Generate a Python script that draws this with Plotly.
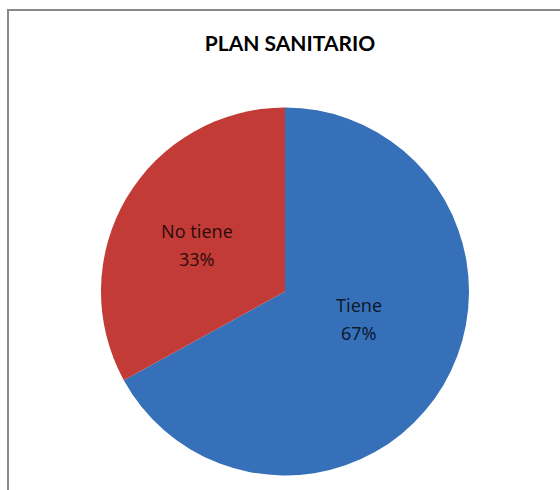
import plotly.graph_objects as go

# Survey result: households with / without a sanitary plan
categories = ["Tiene", "No tiene"]
values = [67, 33]
slice_colors = ["#3670B8", "#C23B36"]

W, H = 560, 490

# Pie geometry in pixels (center and radius), converted to paper domain
cx, cy, r = 285, 291.5, 184
dom_x = [(cx - r) / W, (cx + r) / W]
dom_y = [(H - cy - r) / H, (H - cy + r) / H]

fig = go.Figure(
    go.Pie(
        labels=categories,
        values=values,
        sort=False,
        direction="clockwise",
        rotation=0,
        marker=dict(colors=slice_colors, line=dict(width=0)),
        textinfo="none",
        hole=0,
        showlegend=False,
        domain=dict(x=dom_x, y=dom_y),
    )
)

# Data labels (name on one line, share on the next), placed inside each slice
total = sum(values)
label_pos = {"Tiene": (359, 305), "No tiene": (197, 231)}  # pixel centre of first line
line_gap = 28
label_font = dict(family="Noto Sans", size=18, color="rgba(0,0,0,0.78)")
annotations = []
for name, v in zip(categories, values):
    px, py = label_pos[name]
    pct = f"{round(100 * v / total)}%"
    for i, txt in enumerate([name, pct]):
        annotations.append(dict(
            text=txt, xref="paper", yref="paper",
            x=px / W, y=1 - (py + i * line_gap) / H,
            xanchor="center", yanchor="middle",
            showarrow=False, font=label_font,
        ))

fig.update_layout(
    width=W,
    height=H,
    margin=dict(l=0, r=0, t=0, b=0),
    paper_bgcolor="white",
    plot_bgcolor="white",
    title=dict(
        text="<b>PLAN SANITARIO</b>",
        x=290 / W,
        xanchor="center",
        y=1 - 44 / H,
        yanchor="middle",
        font=dict(family="Lato", size=21, color="#000000"),
    ),
    annotations=annotations,
    shapes=[
        # chart frame (left and top edges visible in the window)
        dict(type="rect", xref="paper", yref="paper",
             x0=8 / W, x1=1.05, y0=-0.05, y1=1 - 10 / H,
             line=dict(color="#8a8a8a", width=2), fillcolor="rgba(0,0,0,0)",
             layer="below"),
    ],
)

fig.write_html("out.html")
